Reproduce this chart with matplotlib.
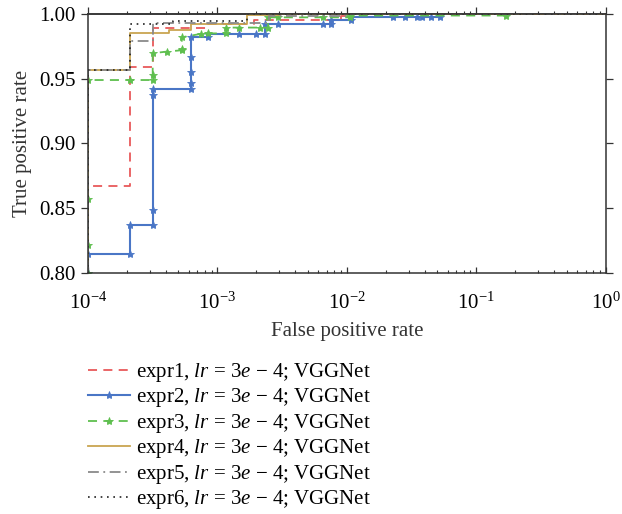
import matplotlib
matplotlib.use("Agg")
import matplotlib.pyplot as plt
from matplotlib.ticker import NullFormatter, LogLocator

plt.rcParams['font.family'] = ['Liberation Serif', 'DejaVu Serif']
plt.rcParams['mathtext.fontset'] = 'custom'
plt.rcParams['mathtext.rm'] = 'Liberation Serif'
plt.rcParams['mathtext.it'] = 'Liberation Serif:italic'
plt.rcParams['mathtext.bf'] = 'Liberation Serif:bold'

# ---- data (FPR, TPR) ----
expr1_fpr = [1e-4, 1e-4, 2.1e-4, 2.1e-4, 3.16e-4, 3.16e-4, 8.4e-4, 8.4e-4, 1.9e-3, 1.9e-3, 9.0e-3, 9.0e-3, 1.1e-2, 1.1e-2, 1.0]
expr1_tpr = [0.80, 0.867, 0.867, 0.959, 0.959, 0.9889, 0.9889, 0.9923, 0.9923, 0.995, 0.995, 0.9985, 0.9985, 1.0, 1.0]

expr2_fpr = [1e-4, 1e-4, 2.1e-4, 2.1e-4, 3.16e-4, 3.16e-4, 3.16e-4, 3.16e-4,
             6.3e-4, 6.3e-4, 6.3e-4, 6.3e-4, 6.3e-4, 8.4e-4, 8.4e-4, 1.46e-3, 2.0e-3,
             2.33e-3, 2.33e-3, 2.93e-3, 6.5e-3, 7.6e-3, 7.6e-3, 1.08e-2, 1.08e-2,
             2.25e-2, 2.8e-2, 3.5e-2, 3.8e-2, 4.5e-2, 5.2e-2]
expr2_tpr = [0.80, 0.815, 0.815, 0.837, 0.837, 0.849, 0.9375, 0.942,
             0.942, 0.947, 0.955, 0.967, 0.982, 0.982, 0.9846, 0.9846, 0.9846,
             0.9846, 0.9923, 0.9923, 0.9923, 0.9923, 0.995, 0.995, 0.9974,
             0.9974, 0.9974, 0.9974, 0.9974, 0.9974, 0.9974]

expr3_fpr = [1e-4, 1e-4, 1e-4, 1e-4, 2.1e-4, 3.16e-4, 3.16e-4, 3.16e-4, 4.1e-4, 5.3e-4, 5.3e-4,
             5.3e-4, 7.4e-4, 8.5e-4, 1.17e-3, 1.17e-3, 1.47e-3, 2.13e-3, 2.46e-3, 2.46e-3,
             2.95e-3, 6.5e-3, 1.05e-2, 1.05e-2, 0.17]
expr3_tpr = [0.80, 0.8216, 0.857, 0.949, 0.949, 0.949, 0.953, 0.9697, 0.971, 0.972, 0.9727,
             0.982, 0.9846, 0.985, 0.985, 0.9895, 0.9895, 0.9895, 0.9895, 0.9974,
             0.9974, 0.9974, 0.9974, 0.9988, 0.9988]

expr4_fpr = [1e-4, 1e-4, 2.1e-4, 2.1e-4, 4.2e-4, 4.2e-4, 6.3e-4, 6.3e-4, 1.68e-3, 1.68e-3, 3.0e-3, 3.0e-3, 1.0]
expr4_tpr = [0.80, 0.957, 0.957, 0.985, 0.985, 0.9876, 0.9876, 0.9923, 0.9923, 0.9992, 0.9992, 1.0, 1.0]

expr5_fpr = [1e-4, 1e-4, 2.1e-4, 2.1e-4, 3.16e-4, 3.16e-4, 2.5e-3, 2.5e-3, 1.0e-2, 1.0e-2, 1.0]
expr5_tpr = [0.80, 0.957, 0.957, 0.979, 0.979, 0.993, 0.993, 0.9985, 0.9985, 1.0, 1.0]

expr6_fpr = [1e-4, 1e-4, 2.1e-4, 2.1e-4, 4.5e-4, 4.5e-4, 1.7e-3, 1.7e-3, 1.0]
expr6_tpr = [0.80, 0.957, 0.957, 0.9923, 0.9923, 0.9942, 0.9942, 1.0, 1.0]

labels = [r'expr%d, $lr$ = $3e$ $-$ 4; VGGNet' % i for i in range(1, 7)]

x_ticks = [1e-4, 1e-3, 1e-2, 1e-1, 1e0]
y_ticks = [0.80, 0.85, 0.90, 0.95, 1.00]

fig = plt.figure(figsize=(6.22, 5.14), dpi=100)
ax = fig.add_axes([0.1415, 0.4689, 0.8325, 0.5039])

ax.plot(expr1_fpr, expr1_tpr, color='#e8595a', ls=(0, (5, 3.5)), lw=1.3, label=labels[0])
ax.plot(expr2_fpr, expr2_tpr, color='#4a76c6', ls='-', lw=1.5, marker='*', ms=6,
        markeredgewidth=0.6, label=labels[1])
ax.plot(expr3_fpr, expr3_tpr, color='#5fbf4f', ls=(0, (5, 3.5)), lw=1.3, marker='*', ms=6,
        markeredgewidth=0.6, label=labels[2])
ax.plot(expr4_fpr, expr4_tpr, color='#c9a550', ls='-', lw=1.3, label=labels[3])
ax.plot(expr5_fpr, expr5_tpr, color='#8a8a8a', ls=(0, (6, 2.5, 1, 2.5)), lw=1.3, label=labels[4])
ax.plot(expr6_fpr, expr6_tpr, color='#222222', ls=(0, (1, 2.8)), lw=1.2, label=labels[5])

ax.set_xscale('log')
ax.set_xlim(1e-4, 1.0)
ax.set_ylim(0.80, 1.00)
ax.set_xticks(x_ticks)
ax.set_yticks(y_ticks)
ax.set_yticklabels(['%.2f' % v for v in y_ticks])
ax.xaxis.set_minor_locator(LogLocator(base=10, subs=range(2, 10), numticks=20))
ax.xaxis.set_minor_formatter(NullFormatter())

for sp in ax.spines.values():
    sp.set_color('#333333')
    sp.set_linewidth(1.1)

ax.tick_params(axis='x', which='major', direction='in', length=4, width=0.9,
               color='#333333', labelsize=15, pad=14, top=False)
ax.tick_params(axis='x', which='minor', direction='in', length=2.5, width=0.8,
               color='#333333', top=False)
ax.tick_params(axis='y', which='major', direction='out', length=5, width=0.9,
               color='#333333', labelsize=15, right=True, pad=4)

sec = ax.secondary_xaxis('top')
sec.xaxis.set_major_locator(LogLocator(base=10, numticks=10))
sec.xaxis.set_minor_locator(LogLocator(base=10, subs=range(2, 10), numticks=20))
sec.xaxis.set_major_formatter(NullFormatter())
sec.xaxis.set_minor_formatter(NullFormatter())
sec.tick_params(which='major', direction='out', length=5, width=0.9, color='#333333')
sec.tick_params(which='minor', direction='out', length=2.5, width=0.8, color='#333333')
sec.spines['top'].set_color('#333333')
sec.spines['top'].set_linewidth(1.1)

ax.set_xlabel('False positive rate', fontsize=15, labelpad=6, color='#333333')
ax.set_ylabel('True positive rate', fontsize=15, labelpad=5, color='#333333')

handles, labs = ax.get_legend_handles_labels()
fig.legend(handles, labs, loc='upper left', bbox_to_anchor=(0.142, 0.298),
           frameon=False, fontsize=15, handlelength=2.0, handletextpad=0.3,
           labelspacing=0.12, borderaxespad=0, borderpad=0, numpoints=1)

fig.savefig('out.png', dpi=100)
